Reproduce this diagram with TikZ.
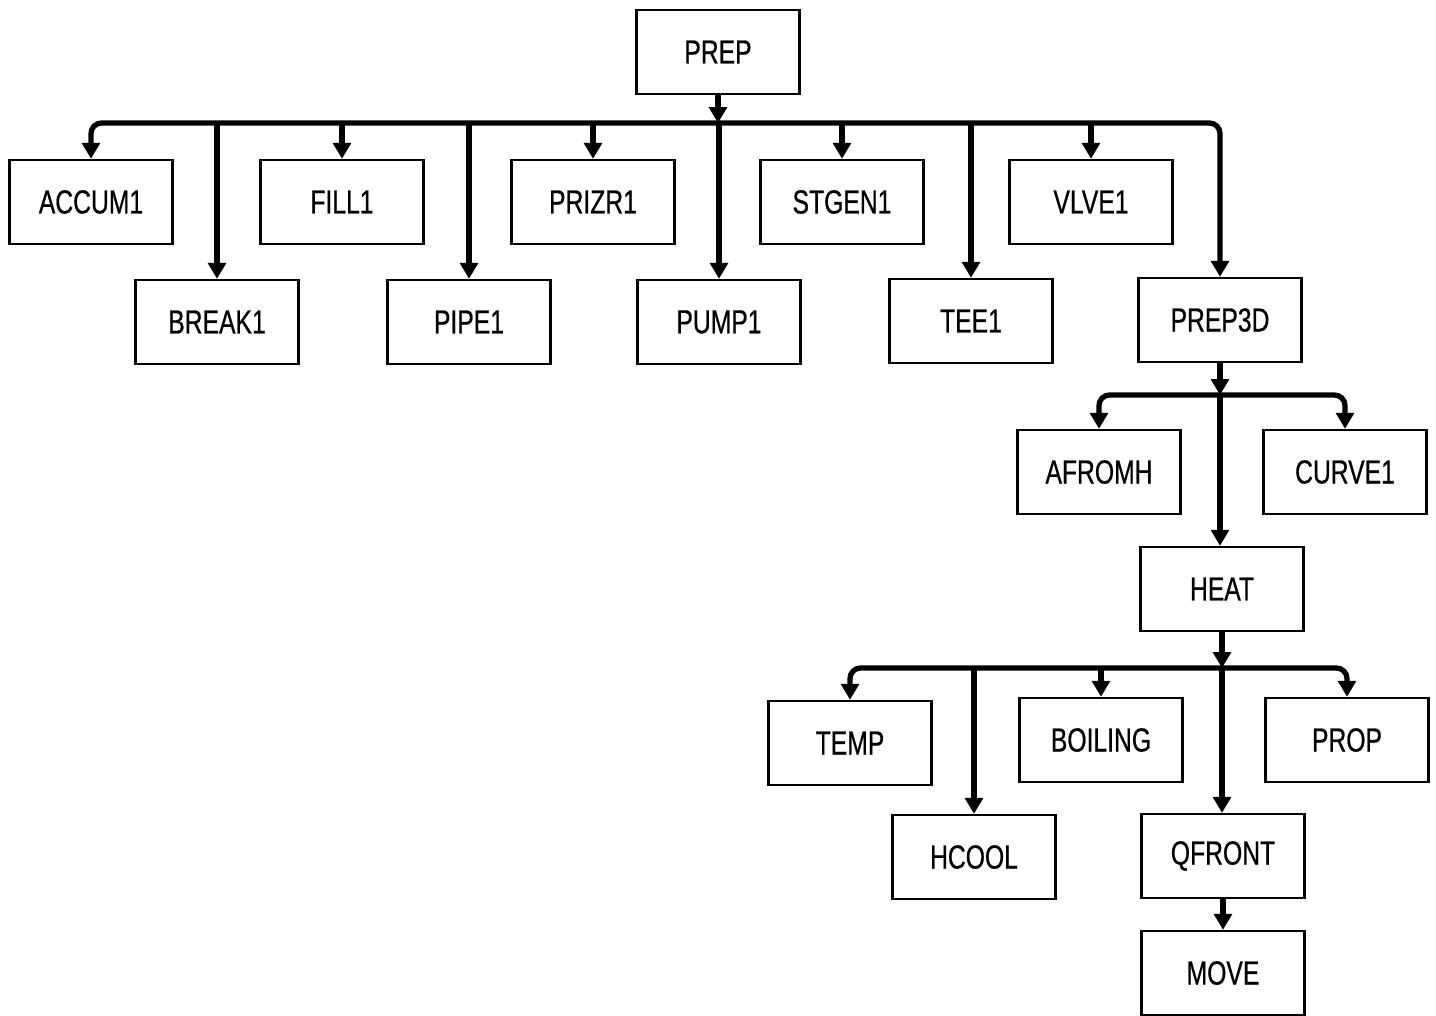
\documentclass[tikz,border=0pt]{standalone}
\usepackage{fontspec}
\setmainfont{Liberation Sans}[FakeStretch=0.74, FakeBold=0.6]
\usepackage{tikz}
\usetikzlibrary{arrows.meta, calc}
\tikzset{
	tri/.tip={Triangle[length=9pt, width=10pt]},
	box/.style={draw, line width=1.4pt, minimum width=3.26cm, minimum height=1.68cm,
		font=\fontsize{19pt}{22pt}\selectfont, inner sep=0pt},
	link/.style={line width=3pt, -tri},
}

\begin{document}
\begin{tikzpicture}[x=0.02cm, y=-0.02cm]
	\useasboundingbox (0,0) rectangle (1436,1015);
	
	% Level 0
	\node[box] (prep) at (718,52) {PREP};
	\coordinate (bus1) at (718,123);
	
	% Level 1
	\node[box] (accum) at (91,202) {ACCUM1};
	\node[box] (break) at (217,322) {BREAK1};
	\node[box] (fill) at (342,202) {FILL1};
	\node[box] (pipe) at (469,322) {PIPE1};
	\node[box] (prizr) at (593,202) {PRIZR1};
	\node[box] (pump) at (719,322) {PUMP1};
	\node[box] (stgen) at (842,202) {STGEN1};
	\node[box] (tee) at (971,321) {TEE1};
	\node[box] (vlve) at (1091,202) {VLVE1};
	\node[box] (prep3d) at (1220,320) {PREP3D};
	
	\draw[link] (prep.south) -- (bus1);
	\draw[line width=3pt, tri-tri, rounded corners=6pt]
	(accum.north) |- (bus1) -| (prep3d.north);
	\foreach \n in {break, fill, pipe, prizr, pump, stgen, tee, vlve}
	\draw[link] (\n.north |- bus1) -- (\n.north);
	
	% Level 2
	\node[box] (afromh) at (1099,472) {AFROMH};
	\node[box] (curve) at (1345,472) {CURVE1};
	\node[box] (heat) at (1222,589) {HEAT};
	\coordinate (bus2) at (1220,395);
	
	\draw[link] (prep3d.south) -- (bus2);
	\draw[line width=3pt, tri-tri, rounded corners=6pt]
	(afromh.north) |- (bus2) -| (curve.north);
	\draw[link] (bus2) -- (heat.north -| bus2);
	
	% Level 3
	\node[box] (temp) at (850,743) {TEMP};
	\node[box] (hcool) at (974,857) {HCOOL};
	\node[box] (boiling) at (1101,740) {BOILING};
	\node[box] (qfront) at (1223,856) {QFRONT};
	\node[box] (prop) at (1347,740) {PROP};
	\node[box] (move) at (1223,973) {MOVE};
	\coordinate (bus3) at (1222,668);
	
	\draw[link] (heat.south) -- (bus3);
	\draw[line width=3pt, tri-tri, rounded corners=6pt]
	(temp.north) |- (bus3) -| (prop.north);
	\foreach \n in {hcool, boiling}
	\draw[link] (\n.north |- bus3) -- (\n.north);
	\draw[link] (bus3) -- (qfront.north -| bus3);
	\draw[link] (qfront.south) -- (move.north);
\end{tikzpicture}
\end{document}
